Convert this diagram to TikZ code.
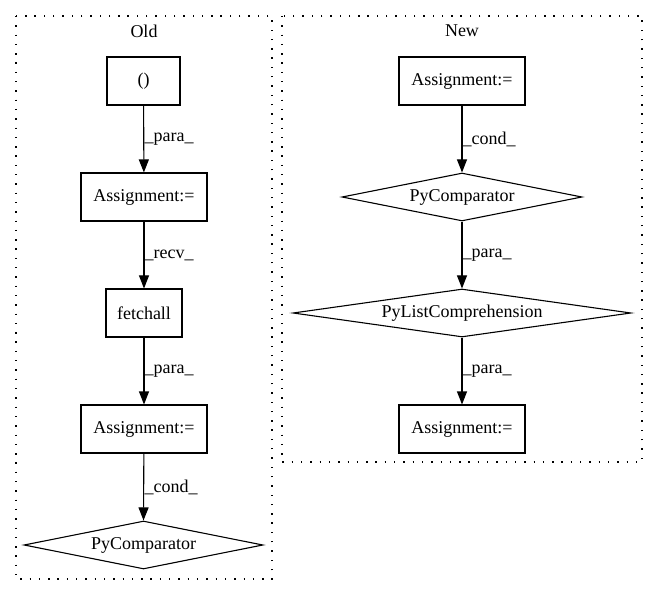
\documentclass[tikz,border=0pt]{standalone}
\usepackage{fontspec}
\setmainfont{Liberation Serif}
\usetikzlibrary{arrows.meta,shapes.geometric}
\begin{document}
\begin{tikzpicture}[x=1pt,y=-1pt,
  every node/.style={font=\fontsize{18}{21}\selectfont},
  box/.style={draw=black,line width=1.1pt,rectangle,inner sep=0pt},
  dia/.style={draw=black,line width=1.1pt,diamond,inner sep=0pt},
  cluster/.style={draw=black,line width=1.3pt,dash pattern=on 1.4pt off 7.9pt},
  edge/.style={draw=black,line width=1.1pt,-{Triangle[length=13pt,width=10pt]}},
  elab/.style={anchor=west,inner sep=0.5pt}
]
\useasboundingbox (0,0) rectangle (659,596);
% clusters
\draw[cluster] (16,16) rectangle (272,579);
\draw[cluster] (282,16) rectangle (642,462);
\node (oldt) at (144,31) {Old};
\node (newt) at (462,31) {New};
% Old nodes
\node[box,minimum width=73pt,minimum height=48pt] (o1) at (143.5,81) {()};
\node[box,minimum width=126pt,minimum height=48pt] (o2) at (144,197) {Assignment:=};
\node[box,minimum width=76pt,minimum height=48pt] (o3) at (144,313) {fetchall};
\node[box,minimum width=126pt,minimum height=48pt] (o4) at (144,429) {Assignment:=};
\node[dia,minimum width=239pt,minimum height=48pt,aspect=5] (o5) at (143.5,545) {PyComparator};
% New nodes
\node[box,minimum width=126pt,minimum height=48pt] (n1) at (462,81) {Assignment:=};
\node[dia,minimum width=240pt,minimum height=48pt,aspect=5] (n2) at (462,197) {PyComparator};
\node[dia,minimum width=338pt,minimum height=48pt,aspect=7] (n3) at (462,313) {PyListComprehension};
\node[box,minimum width=126pt,minimum height=48pt] (n4) at (462,429) {Assignment:=};
% Old edges
\draw[edge] (o1) -- (o2);
\node[elab] (l1) at (144,139) {\_para\_};
\draw[edge] (o2) -- (o3);
\node[elab] (l2) at (144,255) {\_recv\_};
\draw[edge] (o3) -- (o4);
\node[elab] (l3) at (144,371) {\_para\_};
\draw[edge] (o4) -- (o5.north);
\node[elab] (l4) at (144,487) {\_cond\_};
% New edges
\draw[edge] (n1) -- (n2.north);
\node[elab] (m1) at (462,139) {\_cond\_};
\draw[edge] (n2.south) -- (n3.north);
\node[elab] (m2) at (462,255) {\_para\_};
\draw[edge] (n3.south) -- (n4);
\node[elab] (m3) at (462,371) {\_para\_};
\end{tikzpicture}
\end{document}
